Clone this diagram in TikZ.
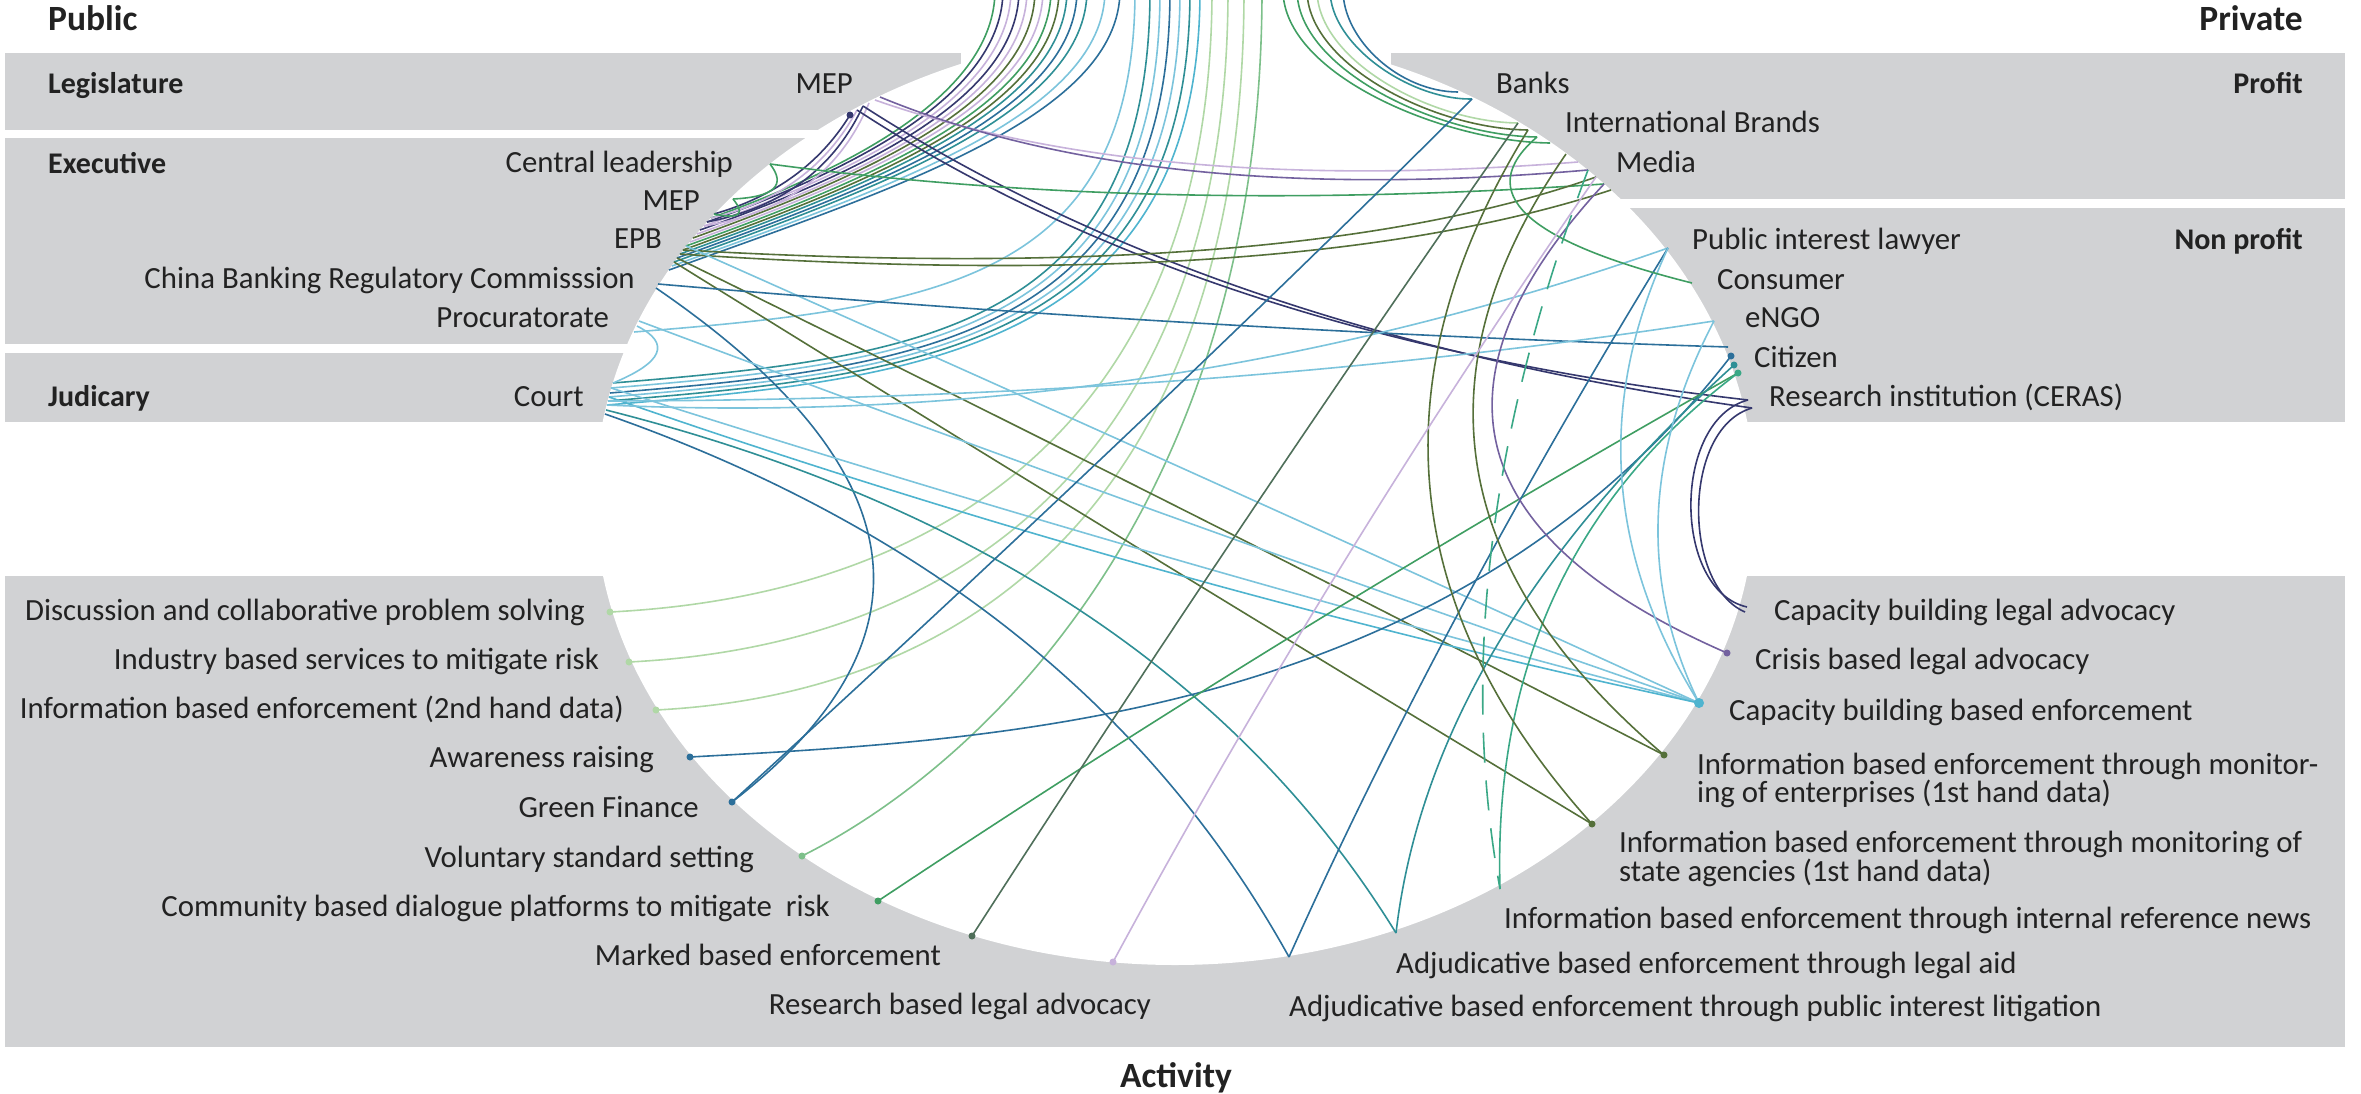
\documentclass[tikz,border=0pt]{standalone}
\usepackage{fontspec}
\setmainfont{Carlito}
\usetikzlibrary{calc}
\definecolor{panel}{HTML}{D1D2D4}
\definecolor{txt}{HTML}{222222}
\definecolor{cnavy}{HTML}{35386E}
\definecolor{clav}{HTML}{C7B2DB}
\definecolor{cpurple}{HTML}{73619F}
\definecolor{colive}{HTML}{55703A}
\definecolor{cgreen}{HTML}{3F9E62}
\definecolor{cmgreen}{HTML}{7DC08A}
\definecolor{clgreen}{HTML}{B0D8A6}
\definecolor{cteal}{HTML}{2F8F96}
\definecolor{cblue}{HTML}{2C6F9A}
\definecolor{clblue}{HTML}{7CC4DC}
\definecolor{ccyan}{HTML}{4FB4CF}
\definecolor{ctgreen}{HTML}{3AA886}
\definecolor{cgray}{HTML}{4F6F5A}
% quadratic Bezier through a single control point
\newcommand\qch[4]{\draw[ch,#4] (#1) .. controls ($(#1)!0.6667!(#2)$) and ($(#3)!0.6667!(#2)$) .. (#3);}
\newcommand\cch[5]{\draw[ch,#5] (#1) .. controls (#2) and (#3) .. (#4);}
\tikzset{
  ch/.style={line width=1.6pt},
  lab/.style={font=\fontsize{30.8}{32}\selectfont, text=txt, inner sep=0pt, yshift=-8pt},
  head/.style={font=\fontsize{30}{32}\selectfont\bfseries, text=txt, inner sep=0pt, yshift=-8pt},
  big/.style={font=\fontsize{35.5}{38}\selectfont\bfseries, text=txt, inner sep=0pt},
  pan/.style={fill=panel, draw=none}
}
\begin{document}
\begin{tikzpicture}[x=1pt,y=-1pt]
\useasboundingbox (0,0) rectangle (2361,1094);
\clip (0,0) rectangle (2361,1094);
% panels
\fill[pan] (5,53) rectangle (961,130);
\fill[pan] (5,138) rectangle (1000,344);
\fill[pan] (5,353) rectangle (1000,422);
\fill[pan] (1391,53) rectangle (2345,199);
\fill[pan] (1400,208) rectangle (2345,422);
\fill[pan] (5,576) rectangle (2345,1047);
\fill[white] (1175,498) ellipse [x radius=580pt, y radius=467pt];
% headings
\node[big, anchor=base west] (hpub) at (48,31) {Public};
\node[big, anchor=base east] (hpriv) at (2303,31) {Private};
\node[big, anchor=base] (hact) at (1176,1087) {Activity};
\node[head, anchor=mid west] (hleg) at (48,83) {Legislature};
\node[head, anchor=mid west] (hexe) at (48,163) {Executive};
\node[head, anchor=mid west] (hjud) at (48,396) {Judicary};
\node[head, anchor=mid east] (hprof) at (2303,83) {Profit};
\node[head, anchor=mid east] (hnon) at (2303,239) {Non profit};
% public labels
\node[lab, anchor=mid east] (lmepl) at (853,83) {MEP};
\node[lab, anchor=mid east] (lcl) at (733,162) {Central leadership};
\node[lab, anchor=mid east] (lmepe) at (700,200) {MEP};
\node[lab, anchor=mid east] (lepb) at (662,238) {EPB};
\node[lab, anchor=mid east] (lcbrc) at (635,278) {China Banking Regulatory Commisssion};
\node[lab, anchor=mid east] (lproc) at (609,317) {Procuratorate};
\node[lab, anchor=mid east] (lcourt) at (584,396) {Court};
% private labels
\node[lab, anchor=mid west] (lbanks) at (1496,83) {Banks};
\node[lab, anchor=mid west] (lintl) at (1565,122) {International Brands};
\node[lab, anchor=mid west] (lmedia) at (1616,162) {Media};
\node[lab, anchor=mid west] (lpil) at (1692,239) {Public interest lawyer};
\node[lab, anchor=mid west] (lcons) at (1717,279) {Consumer};
\node[lab, anchor=mid west] (lengo) at (1745,317) {eNGO};
\node[lab, anchor=mid west] (lcit) at (1754,357) {Citizen};
\node[lab, anchor=mid west] (lres) at (1769,396) {Research institution (CERAS)};
% activity labels left
\node[lab, anchor=mid east] (ldisc) at (585,610) {Discussion and collaborative problem solving};
\node[lab, anchor=mid east] (lind) at (599,659) {Industry based services to mitigate risk};
\node[lab, anchor=mid east] (linfo) at (624,708) {Information based enforcement (2nd hand data)};
\node[lab, anchor=mid east] (lawr) at (654,757) {Awareness raising};
\node[lab, anchor=mid east] (lgf) at (699,807) {Green Finance};
\node[lab, anchor=mid east] (lvol) at (754,857) {Voluntary standard setting};
\node[lab, anchor=mid east] (lcomm) at (830,906) {Community based dialogue platforms to mitigate\ \ risk};
\node[lab, anchor=mid east] (lmark) at (941,955) {Marked based enforcement};
\node[lab, anchor=mid east] (lrla) at (1151,1004) {Research based legal advocacy};
% activity labels right
\node[lab, anchor=mid west] (lcapl) at (1774,610) {Capacity building legal advocacy};
\node[lab, anchor=mid west] (lcris) at (1755,659) {Crisis based legal advocacy};
\node[lab, anchor=mid west] (lcape) at (1729,710) {Capacity building based enforcement};
\node[lab, anchor=mid west] (lent1) at (1697,764) {Information based enforcement through monitor-};
\node[lab, anchor=mid west] (lent2) at (1697,792) {ing of enterprises (1st hand data)};
\node[lab, anchor=mid west] (lsta1) at (1619,842) {Information based enforcement through monitoring of};
\node[lab, anchor=mid west] (lsta2) at (1619,871) {state agencies (1st hand data)};
\node[lab, anchor=mid west] (lnews) at (1504,918) {Information based enforcement through internal reference news};
\node[lab, anchor=mid west] (llaid) at (1396,963) {Adjudicative based enforcement through legal aid};
\node[lab, anchor=mid west] (lpilit) at (1289,1006) {Adjudicative based enforcement through public interest litigation};
% endpoints
\coordinate (mepl1) at (850,115); \coordinate (mepl2) at (857,110);
\coordinate (mepl3) at (863,106); \coordinate (mepl4) at (869,103);
\coordinate (mepl5) at (875,100); \coordinate (mepl6) at (880,97);
\coordinate (cl) at (770,164); \coordinate (mepe) at (733,199);
\coordinate (epb0) at (714,214); \coordinate (epb1) at (711,218);
\coordinate (epb2) at (707,222); \coordinate (epb3) at (704,226);
\coordinate (epb4) at (700,230); \coordinate (epb5) at (697,234);
\coordinate (epb6) at (693,238); \coordinate (epb7) at (690,242);
\coordinate (epb8) at (686,246); \coordinate (epb9) at (683,250);
\coordinate (epb10) at (680,254); \coordinate (epb11) at (677,258);
\coordinate (epb12) at (674,262); \coordinate (epb13) at (672,266);
\coordinate (epb14) at (669,270);
\coordinate (cbrc1) at (658,284); \coordinate (cbrc2) at (656,288);
\coordinate (proc1) at (637,326); \coordinate (proc2) at (634,332);
\coordinate (proc3) at (639,321);
\coordinate (c1) at (613,383); \coordinate (c2) at (611,388);
\coordinate (c3) at (610,393); \coordinate (c4) at (609,397);
\coordinate (c5) at (608,401); \coordinate (c6) at (607,405);
\coordinate (c7) at (606,410); \coordinate (c8) at (605,414);
\coordinate (banks1) at (1458,92); \coordinate (banks2) at (1472,99);
\coordinate (intl1) at (1518,123); \coordinate (intl2) at (1528,130);
\coordinate (intl3) at (1537,137);
\coordinate (media1) at (1550,143); \coordinate (media2) at (1566,154);
\coordinate (media3) at (1578,162); \coordinate (media4) at (1588,170);
\coordinate (media5) at (1596,177); \coordinate (media6) at (1604,184);
\coordinate (media7) at (1611,190);
\coordinate (pill) at (1668,248); \coordinate (cons) at (1692,283);
\coordinate (engo) at (1714,321); \coordinate (cit0) at (1728,347);
\coordinate (cit1) at (1731,356); \coordinate (cit2) at (1734,365);
\coordinate (cit3) at (1738,373);
\coordinate (res1) at (1748,400); \coordinate (res2) at (1752,408);
\coordinate (disc) at (610,612); \coordinate (ind) at (629,662);
\coordinate (info) at (656,710); \coordinate (awr) at (690,757);
\coordinate (gf) at (732,802); \coordinate (vol) at (802,856);
\coordinate (comm) at (878,901); \coordinate (mark) at (972,936);
\coordinate (rla) at (1113,962); \coordinate (pilit) at (1289,957);
\coordinate (laid) at (1396,933); \coordinate (news) at (1500,889);
\coordinate (state) at (1592,824); \coordinate (ent) at (1664,755);
\coordinate (cape) at (1699,703); \coordinate (crisis) at (1727,653);
\coordinate (capl) at (1747,607); \coordinate (capl2) at (1745,612);
% top (cut off) ends
\foreach \i/\x in {1/995,2/1003,3/1011,4/1019,5/1027,6/1035,7/1043,8/1051,9/1059,10/1067,11/1077,12/1087,13/1105,14/1120,15/1135,16/1150,17/1160,18/1170,19/1180,20/1190,21/1200,22/1212,23/1228,24/1244,25/1262,31/1343,32/1330,33/1317,34/1307,35/1297,36/1283}
  \coordinate (t\i) at (\x,-10);
% top fan, left
\cch{epb1}{853,167}{995,93}{t1}{cgreen}
\cch{epb2}{855,169}{1003,94}{t2}{cnavy}
\cch{epb3}{858,171}{1011,96}{t3}{clav}
\cch{epb4}{860,173}{1019,98}{t4}{cnavy}
\cch{epb5}{862,175}{1027,100}{t5}{clav}
\cch{epb6}{864,176}{1035,102}{t6}{colive}
\cch{epb7}{866,178}{1043,103}{t7}{clav}
\cch{epb8}{869,180}{1051,105}{t8}{cgreen}
\cch{epb9}{871,182}{1059,107}{t9}{colive}
\cch{epb10}{873,184}{1067,109}{t10}{cteal}
\cch{epb11}{877,186}{1077,111}{t11}{cblue}
\cch{epb12}{880,188}{1087,112}{t12}{cteal}
\cch{epb13}{888,188}{1105,114}{t13}{clblue}
\cch{epb14}{894,189}{1120,116}{t14}{cblue}
\cch{proc2}{933,308}{1135,283}{t15}{clblue}
\cch{c1}{913,358}{1150,333}{t16}{cteal}
\cch{c2}{911,363}{1160,338}{t17}{clblue}
\cch{c3}{910,368}{1170,343}{t18}{cblue}
\cch{c4}{909,372}{1180,347}{t19}{clblue}
\cch{c5}{908,376}{1190,351}{t20}{cteal}
\cch{c6}{907,380}{1200,355}{t21}{ccyan}
\cch{disc}{971,594}{1212,394}{t22}{clgreen}
\cch{ind}{988,644}{1228,427}{t23}{clgreen}
\cch{info}{1009,692}{1244,458}{t24}{clgreen}
\cch{vol}{986,764}{1262,500}{t25}{cmgreen}
% top fan, right
\cch{banks1}{1400,92}{1343,40}{t31}{cblue}
\cch{banks2}{1410,100}{1330,45}{t32}{cteal}
\cch{intl1}{1430,122}{1317,60}{t33}{clgreen}
\cch{intl2}{1435,129}{1307,65}{t34}{colive}
\cch{intl3}{1440,136}{1297,70}{t35}{cgreen}
\cch{media1}{1445,142}{1283,75}{t36}{cgreen}
% chords
\qch{mepl1}{805,188}{epb0}{cnavy}
\qch{mepl2}{812,194}{epb1}{clav}
\qch{mepl3}{819,200}{epb2}{cnavy}
\qch{mepl4}{826,206}{epb3}{clav}
\qch{mepl2}{1206,338}{res1}{cnavy}
\qch{mepl3}{1214,332}{res2}{cnavy}
\qch{mepl5}{1149,196}{media3}{clav}
\qch{mepl6}{1149,208}{media4}{cpurple}
\qch{cl}{795,196}{mepe}{cgreen}
\qch{mepe}{752,222}{epb0}{cgreen}
\qch{cl}{1150,215}{media6}{cgreen}
\qch{epb9}{1290,285}{media5}{colive}
\qch{epb10}{1290,295}{media7}{colive}
\qch{epb11}{1170,500}{ent}{colive}
\qch{epb12}{1130,545}{state}{colive}
\qch{epb8}{1190,470}{cape}{clblue}
\qch{cbrc1}{1190,330}{cit0}{cblue}
\qch{cbrc2}{1049,557}{gf}{cblue}
\qch{proc1}{688,352}{c1}{clblue}
\qch{proc3}{1170,520}{cape}{clblue}
\qch{c2}{1150,560}{cape}{clblue}
\qch{c4}{1150,585}{cape}{ccyan}
\qch{c7}{1160,550}{laid}{cteal}
\qch{c8}{1080,580}{pilit}{cblue}
\qch{c5}{1200,400}{engo}{clblue}
\qch{c6}{1150,430}{pill}{clblue}
\cch{awr}{1000,740}{1450,720}{cit1}{cblue}
\qch{cit3}{1300,620}{comm}{cgreen}
\qch{cit2}{1430,640}{laid}{cteal}
\qch{pill}{1440,620}{pilit}{cblue}
\cch{res1}{1672,420}{1672,590}{capl}{cnavy}
\cch{res2}{1682,428}{1682,585}{capl2}{cnavy}
\qch{media6}{1330,480}{crisis}{cpurple}
\qch{media4}{1440,560}{news}{ctgreen,dash pattern=on 30pt off 18pt}
\qch{cit3}{1490,560}{news}{ctgreen}
\qch{intl2}{1300,500}{state}{colive}
\qch{media2}{1340,480}{ent}{colive}
\qch{pill}{1560,480}{cape}{clblue}
\qch{engo}{1610,520}{cape}{clblue}
\qch{cons}{1440,220}{intl3}{cgreen}
\qch{gf}{1150,420}{banks2}{cblue}
\qch{mark}{1240,520}{intl1}{cgray}
\qch{rla}{1330,560}{media5}{clav}
% dots
\foreach \p/\c in {mepl1/cnavy,disc/clgreen,ind/clgreen,info/clgreen,awr/cblue,gf/cblue,vol/cmgreen,comm/cgreen,mark/cgray,rla/clav,crisis/cpurple,ent/colive,state/colive,cit1/cblue,cit2/cteal,cit3/ctgreen}
  \fill[\c] (\p) circle (3.5pt);
\fill[ccyan] (cape) circle (5pt);
\end{tikzpicture}
\end{document}
